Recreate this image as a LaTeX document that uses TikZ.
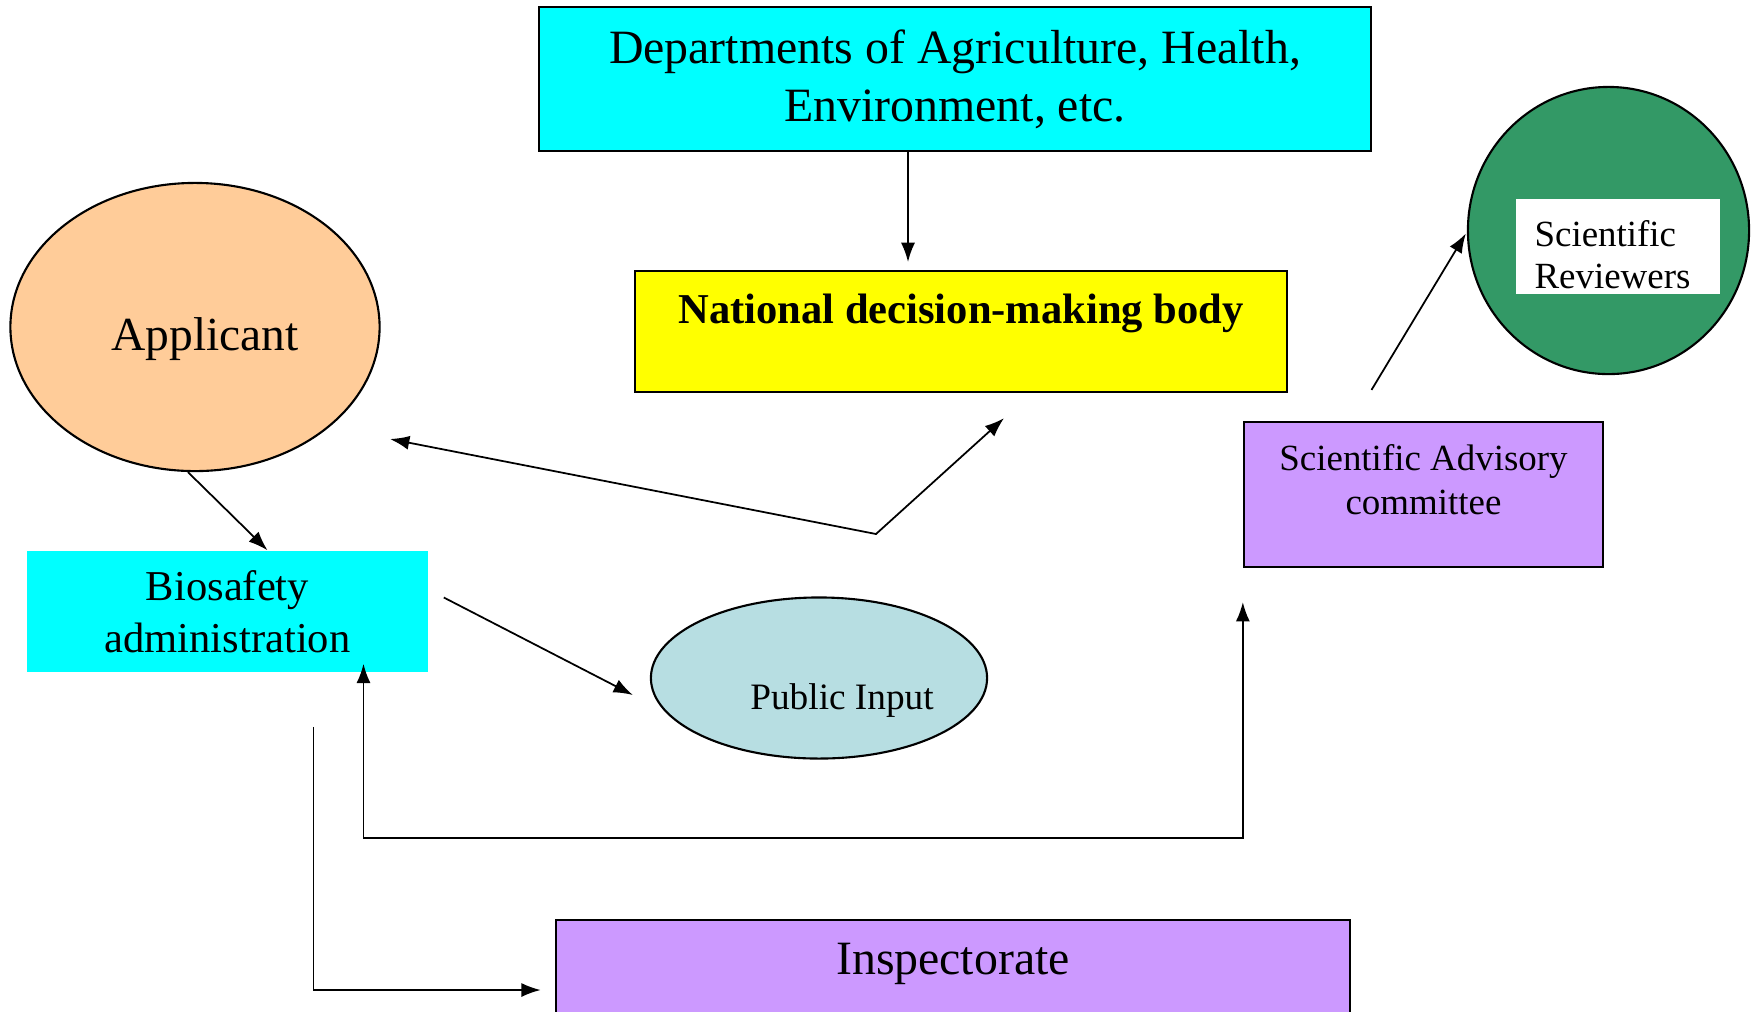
\documentclass[tikz,border=0pt]{standalone}
\usepackage{fontspec}
\setmainfont{Liberation Serif}
\usepackage{xcolor}
\usetikzlibrary{calc,arrows.meta,shapes.geometric}
\definecolor{deptcyan}{HTML}{00FFFF}
\definecolor{natyellow}{HTML}{FFFF00}
\definecolor{appeach}{HTML}{FFCC99}
\definecolor{publue}{HTML}{B7DEE2}
\definecolor{lilac}{HTML}{CC99FF}
\definecolor{revgreen}{HTML}{339966}

\begin{document}
\begin{tikzpicture}[x=0.01cm,y=-0.01cm,every node/.style={align=center,inner sep=0pt},
	box/.style={draw,line width=0.6pt},
	arr/.style={->,>={Latex[length=5.5pt,width=4pt]},line width=0.5pt}]
	\useasboundingbox(0,0)rectangle(1757,1011);
	\node(dept)at(955,79)[box,fill=deptcyan,minimum width=8.32cm,minimum height=1.44cm,font=\fontsize{13.6}{16.5}\selectfont]{Departments of Agriculture, Health,\\Environment, etc.};
	\node(nat)at(961,270)[box,anchor=north,fill=natyellow,minimum width=6.52cm,text height=0.525cm,text depth=0.685cm,font=\bfseries\fontsize{12.1}{14}\selectfont]{National decision-making body};
	\node(app)at(195,327)[ellipse,box,fill=appeach,minimum width=3.69cm,minimum height=2.88cm,label={[xshift=0.1cm,yshift=-0.12cm,font=\fontsize{13.5}{16}\selectfont]center:Applicant}]{};
	\node(bio)at(227.5,611.5)[fill=deptcyan,minimum width=4.01cm,minimum height=1.21cm,font=\fontsize{12.1}{14.8}\selectfont]{Biosafety\\administration};
	\node(pub)at(819,678)[ellipse,box,fill=publue,minimum width=3.36cm,minimum height=1.61cm,label={[xshift=0.23cm,yshift=-0.225cm,font=\fontsize{10.6}{13}\selectfont]center:Public Input}]{};
	\node(adv)at(1423.5,494.5)[box,fill=lilac,minimum width=3.59cm,minimum height=1.45cm,label={[yshift=0.145cm,align=center,font=\fontsize{10.5}{12.5}\selectfont]center:Scientific Advisory\\committee}]{};
	\node(rev)at(1608.5,230.5)[ellipse,box,fill=revgreen,minimum width=2.81cm,minimum height=2.87cm]{};
	\node(revtext)at(1618,246.5)[fill=white,minimum width=2.04cm,minimum height=0.95cm,label={[xshift=-0.055cm,yshift=-0.08cm,align=left,font=\fontsize{10.5}{12.1}\selectfont]center:Scientific\\Reviewers}]{};
	\node(insp)at(953,919)[box,anchor=north,fill=lilac,minimum width=7.94cm,text height=0.545cm,text depth=0.9cm,font=\fontsize{13.6}{16}\selectfont]{Inspectorate};
	\coordinate(turn)at(876,534);
	\coordinate(low)at(800,838);
	\draw[arr]($(dept.south)+(-47,0)$)--($(nat.north)+(-53,-8)$);
	\draw[arr]($(app.south)+(-7,0)$)--($(bio.north)+(40,0)$);
	\draw[arr,<->]($(app.center)+(195,112)$)--(turn)--($(nat.south)+(43,25)$);
	\draw[arr]($(bio.east)+(15,-14)$)--($(pub.west)+(-17,17)$);
	\draw[arr,<->]($(bio.south)+(136,-9)$)|-(low)-|($(adv.south west)+(0,34)$);
	\draw[arr]($(bio.south)+(86,54)$)|-($(insp.north west)+(-14,71)$);
	\draw[arr]($(adv.north)+(-52,-31)$)--($(rev.west)+(-1,3)$);
\end{tikzpicture}
\end{document}
